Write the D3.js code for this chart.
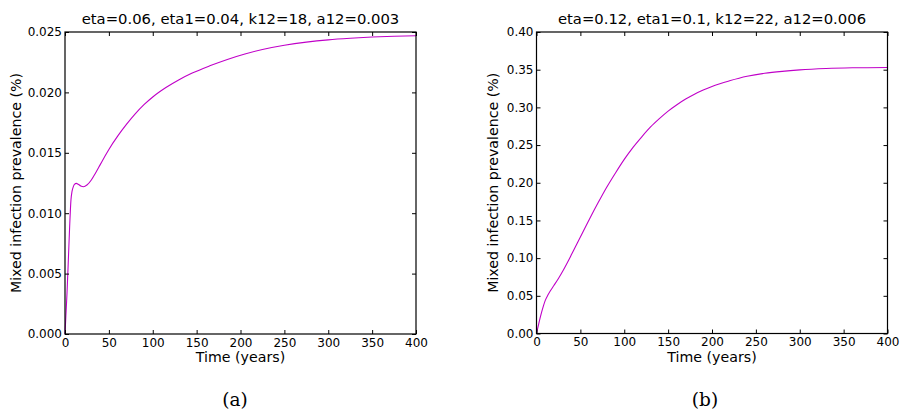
<!DOCTYPE html>
<html>
<head>
<meta charset="utf-8">
<script src="https://d3js.org/d3.v7.min.js"></script>
<style>
  html, body { margin: 0; padding: 0; background: #fff; }
  svg { display: block; }
  text { font-family: "DejaVu Sans", sans-serif; fill: #000; }
</style>
</head>
<body>
<svg id="chart" width="901" height="413"></svg>
<script>
// ---- Data ----
const xTicks = [0, 50, 100, 150, 200, 250, 300, 350, 400];

const titleA = "eta=0.06, eta1=0.04, k12=18, a12=0.003";
const yTicksA = [0.000, 0.005, 0.010, 0.015, 0.020, 0.025];
const timeA = [0, 1, 2.3, 3.8, 5.3, 6.8, 8, 9.5, 11, 13, 15, 18, 21, 25, 30, 35, 40, 45, 50, 60, 70, 80, 90, 100, 115, 130, 145, 165, 185, 205, 225, 250, 275, 300, 325, 350, 375, 400];
const valA  = [0, 0.0015, 0.0034, 0.0061, 0.0089, 0.0111, 0.0118, 0.0122, 0.01240, 0.01247, 0.01240, 0.01225, 0.01219, 0.01233, 0.01275, 0.01335, 0.01400, 0.01465, 0.01528, 0.01638, 0.01735, 0.01822, 0.01898, 0.01962, 0.02040, 0.02105, 0.02160, 0.02220, 0.02273, 0.02318, 0.02355, 0.02390, 0.02416, 0.02435, 0.02448, 0.02458, 0.02465, 0.02469];

const titleB = "eta=0.12, eta1=0.1, k12=22, a12=0.006";
const yTicksB = [0.00, 0.05, 0.10, 0.15, 0.20, 0.25, 0.30, 0.35, 0.40];
const timeB = [0, 2, 4, 6, 8, 10, 13, 16, 20, 25, 30, 40, 50, 60, 70, 80, 90, 100, 110, 120, 130, 140, 150, 160, 170, 180, 190, 200, 220, 240, 260, 280, 300, 330, 360, 400];
const valB  = [0, 0.010, 0.020, 0.029, 0.037, 0.044, 0.051, 0.057, 0.064, 0.073, 0.083, 0.105, 0.128, 0.151, 0.173, 0.194, 0.213, 0.231, 0.247, 0.261, 0.274, 0.285, 0.295, 0.3035, 0.3110, 0.3175, 0.3230, 0.3278, 0.3352, 0.3412, 0.3452, 0.3478, 0.3497, 0.3515, 0.3525, 0.3530];

const xLabel = "Time (years)";
const yLabel = "Mixed infection prevalence (%)";
const panelLabels = ["(a)", "(b)"];

// ---- Layout ----
const svg = d3.select("#chart");
const lineColor = "#c000c8";

const panels = [
  { left: 65, right: 416, top: 32, bottom: 334, title: titleA, yTicks: yTicksA, yMax: 0.025, fmt: ".3f",
    t: timeA, v: valA, ylabX: 20.5, panel: panelLabels[0], panelX: 235 },
  { left: 536.5, right: 887.5, top: 32, bottom: 333.5, title: titleB, yTicks: yTicksB, yMax: 0.40, fmt: ".2f",
    t: timeB, v: valB, ylabX: 498, panel: panelLabels[1], panelX: 705 }
];

panels.forEach(p => {
  const x = d3.scaleLinear().domain([0, 400]).range([p.left, p.right]);
  const y = d3.scaleLinear().domain([0, p.yMax]).range([p.bottom, p.top]);
  const g = svg.append("g");

  // curve
  const pts = p.t.map((d, i) => [d, p.v[i]]);
  g.append("path")
    .datum(pts)
    .attr("fill", "none")
    .attr("stroke", lineColor)
    .attr("stroke-width", 1.1)
    .attr("d", d3.line().x(d => x(d[0])).y(d => y(d[1])).curve(d3.curveMonotoneX));

  // axes with inward ticks
  const bottom = g.append("g").attr("transform", `translate(0,${p.bottom})`)
    .call(d3.axisBottom(x).tickValues(xTicks).tickFormat(d3.format("d")).tickSizeInner(-4).tickSizeOuter(0).tickPadding(4));
  const top = g.append("g").attr("transform", `translate(0,${p.top})`)
    .call(d3.axisTop(x).tickValues(xTicks).tickFormat("").tickSizeInner(-4).tickSizeOuter(0));
  const left = g.append("g").attr("transform", `translate(${p.left},0)`)
    .call(d3.axisLeft(y).tickValues(p.yTicks).tickFormat(d3.format(p.fmt)).tickSizeInner(-4).tickSizeOuter(0).tickPadding(3));
  const right = g.append("g").attr("transform", `translate(${p.right},0)`)
    .call(d3.axisRight(y).tickValues(p.yTicks).tickFormat("").tickSizeInner(-4).tickSizeOuter(0));

  [bottom, top, left, right].forEach(a => {
    a.select(".domain").remove();
    a.selectAll(".tick line").attr("stroke", "#000").attr("stroke-width", 1);
    a.selectAll(".tick text").attr("font-family", "DejaVu Sans").attr("font-size", 12).attr("fill", "#000");
  });

  // frame
  g.append("rect")
    .attr("x", p.left).attr("y", p.top)
    .attr("width", p.right - p.left).attr("height", p.bottom - p.top)
    .attr("fill", "none").attr("stroke", "#000").attr("stroke-width", 1.2);

  // title
  g.append("text")
    .attr("x", (p.left + p.right) / 2).attr("y", 24)
    .attr("text-anchor", "middle").attr("font-size", 14.8)
    .text(p.title);

  // x label
  g.append("text")
    .attr("x", (p.left + p.right) / 2).attr("y", 362)
    .attr("text-anchor", "middle").attr("font-size", 14.2)
    .text(xLabel);

  // y label
  g.append("text")
    .attr("transform", `translate(${p.ylabX},${(p.top + p.bottom) / 2}) rotate(-90)`)
    .attr("text-anchor", "middle").attr("font-size", 14.2)
    .text(yLabel);

  // panel label
  g.append("text")
    .attr("x", p.panelX).attr("y", 405.5)
    .attr("text-anchor", "middle")
    .style("font-family", "'DejaVu Serif', serif")
    .attr("font-size", 18.5)
    .attr("fill", "#333")
    .text(p.panel);
});
</script>
</body>
</html>
